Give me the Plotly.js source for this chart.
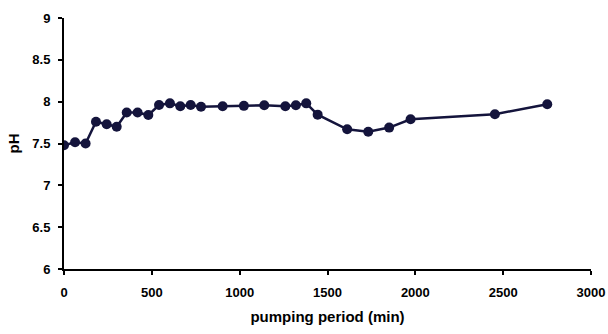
<!DOCTYPE html>
<html>
<head>
<meta charset="utf-8">
<script src="https://cdn.plot.ly/plotly-3.0.1.min.js"></script>
<style>html,body{margin:0;padding:0;background:#fff;}#chart{width:608px;height:334px;}</style>
</head>
<body>
<div id="chart"></div>
<script>
// pumping period (min)
const pumpingPeriod = [0, 63, 123, 182, 243, 300, 357, 419, 480, 541, 603, 662, 721, 780, 903, 1024, 1140, 1260, 1320, 1379, 1444, 1612, 1732, 1851, 1973, 2453, 2751];
// pH
const pH = [7.48, 7.515, 7.50, 7.76, 7.73, 7.70, 7.87, 7.87, 7.84, 7.96, 7.98, 7.945, 7.96, 7.94, 7.945, 7.95, 7.957, 7.945, 7.957, 7.98, 7.845, 7.67, 7.64, 7.69, 7.79, 7.85, 7.97];
const xTicks = [0, 500, 1000, 1500, 2000, 2500, 3000];
const yTicks = [6, 6.5, 7, 7.5, 8, 8.5, 9];
const yTickText = ['6', '6.5', '7', '7.5', '8', '8.5', '9'];

const fam = 'Liberation Sans, Arial, sans-serif';

Plotly.newPlot('chart', [{
  x: pumpingPeriod,
  y: pH,
  mode: 'lines+markers',
  line: {color: '#14143c', width: 2.5},
  marker: {color: '#14143c', size: 10, symbol: 'circle'}
}], {
  width: 608, height: 334,
  margin: {l: 64, r: 17, t: 18, b: 65},
  paper_bgcolor: '#fff', plot_bgcolor: '#fff',
  showlegend: false,
  font: {family: fam, size: 13, color: '#000', weight: 700},
  xaxis: {
    range: [0, 3000], tickvals: xTicks, ticktext: xTicks.map(String),
    showgrid: false, zeroline: false,
    showline: true, linecolor: '#000', linewidth: 2,
    ticks: 'outside', ticklen: 4, tickwidth: 2, tickcolor: '#000',
    ticklabelstandoff: 6,
    tickfont: {family: fam, size: 13, color: '#000', weight: 700},
    title: {text: 'pumping period (min)', font: {family: fam, size: 15, color: '#000', weight: 700}, standoff: 13}
  },
  yaxis: {
    range: [6, 9], tickvals: yTicks, ticktext: yTickText,
    showgrid: false, zeroline: false,
    showline: true, linecolor: '#000', linewidth: 2,
    ticks: 'outside', ticklen: 4, tickwidth: 2, tickcolor: '#000',
    ticklabelstandoff: 5,
    tickfont: {family: fam, size: 13, color: '#000', weight: 700},
    title: {text: 'pH', font: {family: fam, size: 15, color: '#000', weight: 700}, standoff: 9}
  }
}, {displayModeBar: false, staticPlot: true});
</script>
</body>
</html>
